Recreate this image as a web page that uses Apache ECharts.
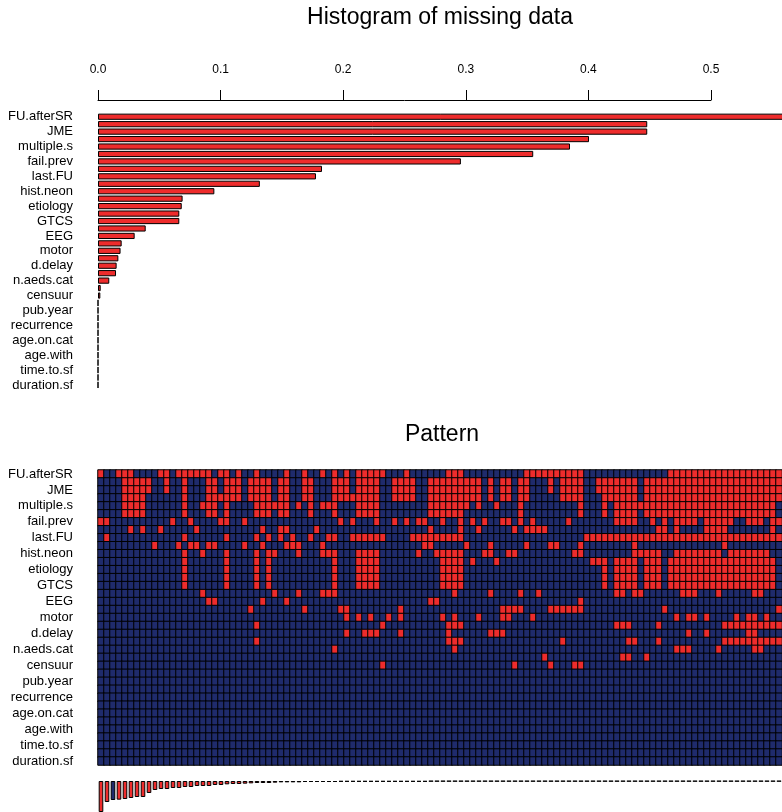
<!DOCTYPE html>
<html>
<head>
<meta charset="utf-8">
<script src="https://cdn.jsdelivr.net/npm/echarts@6.0.0/dist/echarts.min.js"></script>
<style>
  html, body { margin: 0; padding: 0; background: #ffffff; }
  #chart { width: 782px; height: 812px; }
</style>
</head>
<body>
<div id="chart"></div>
<script>
// Variable labels, printed on every other row (1st, 3rd, ... 37th variable)
const varLabels = ['FU.afterSR', 'JME', 'multiple.s', 'fail.prev', 'last.FU', 'hist.neon',
  'etiology', 'GTCS', 'EEG', 'motor', 'd.delay', 'n.aeds.cat', 'censuur', 'pub.year',
  'recurrence', 'age.on.cat', 'age.with', 'time.to.sf', 'duration.sf'];

// Proportion of missing values per variable (37 variables, sorted)
const missingShare = [0.58, 0.448, 0.448, 0.4005, 0.385, 0.355, 0.296, 0.1827, 0.1778, 0.132,
  0.0949, 0.069, 0.0683, 0.0663, 0.0663, 0.0389, 0.0299, 0.0193, 0.0184, 0.0166,
  0.0152, 0.0147, 0.0092, 0.0022, 0.0019, 0, 0, 0, 0, 0, 0, 0, 0, 0, 0, 0, 0];

// Histogram axis ticks
const shareTicks = [0.0, 0.1, 0.2, 0.3, 0.4, 0.5];

// Frequency of each missing-data pattern (one per column)
const patternFreq = [93, 63, 57, 56, 54, 51, 48, 48, 36, 27, 24, 24, 21, 21, 18, 18, 15, 15, 15, 12,
  12, 10, 9, 9, 8, 7, 6, 6, 6, 5, 4, 4, 4, 4, 3, 3, 3, 3, 3, 3,
  2, 2, 2, 2, 2, 2, 2, 2, 2, 2, 2, 2, 2, 2, 2, 1, 1, 1, 1, 1,
  1, 1, 1, 1, 1, 1, 1, 1, 1, 1, 1, 1, 1, 1, 1, 1, 1, 1, 1, 1,
  1, 1, 1, 1, 1, 1, 1, 1, 1, 1, 1, 1, 1, 1, 1, 1, 1, 1, 1, 1,
  1, 1, 1, 1, 1, 1, 1, 1, 1, 1, 1, 1, 1, 1];

// Missing cells of each pattern, listed per variable row as column numbers / ranges
const missingCols = [
  '1 4-6 11 12 14-19 21 22 24 27 32 35 38 40 42 44-48 52 59-61 72-81 96-114',
  '5-9 12 15 19 20 22-24 26-29 31 32 35 36 40-42 44-47 50-53 56-64 66 68 69 71 72 76 78-81 84-90 92-114',
  '5-9 12 15 19 20 22-24 26-29 31 32 35 36 40-42 44-47 50-53 56-64 66 68 69 71 72 76 78-81 84-90 92-114',
  '5-8 15 19-24 26-29 31 32 35 36 40-47 50-53 56-64 66 68 69 71 72 78-81 85-90 92-114',
  '5-8 15 18-20 22 27-32 34 36 38-40 44-47 56-62 64 67 71 81 85 87-113',
  '5-8 15 19 20 22 27-29 31 32 36 40 44-47 56-61 71 81 85 87-90 92-113',
  '1 2 13 16 21 22 25 41 43 47 50 52 54 55 58 61 63 65 68 69 71 73 79 87-90 93 95 97-100 102-106 109-111 113 114',
  '6 8 11 17 28 31 32 37 56 61 64 70 72-75 94 95 97 102-105 113',
  '2 15 22 27 29 31 33 36 39 40 43-48 53-61 82-114',
  '10 14 16 17 19 20 25 28 32-34 38 55 56 62 66 72 76 77 81 90 105',
  '15 18 22 27 29 30 34 38-40 44-47 54 57-61 65 66 69 70 80 81 90-94 97-104 106-112',
  '15 22 27 29 40 44-47 58-61 63 67 83-85 87-90 92-94 96-113',
  '15 22 27 29 40 44-47 58-61 85 87-90 92-94 96-113',
  '15 22 27 29 40 44-47 58-61 85 87-90 92-94 96-113',
  '15 22 27 29 40 44-47 58-61 85 87-90 92-94 96-113',
  '18 30 34 38-40 60 66 71 74 87 88 90 91 98-100 104 110 111',
  '19 20 28 32 56 57 81',
  '26 35 41 42 51 68-71 76-81 95 114',
  '42 44 46 49 51 58 60 64 68 69 73 97 99 100 102 107 109 110 112',
  '27 48 59-61 87-89 94 105-114',
  '42 45-47 51 59 66-68 99 102 109 110',
  '27 59-61 78 89 90 94 105-114',
  '40 60 97-99 104 110 111',
  '75 88 89 92',
  '48 70 76 80 81',
  '', '', '', '', '', '', '', '', '', '', '', ''
];

const RED = '#EE2C2C';
const BLUE = '#1F2B6C';
const FONT = '"Liberation Sans", Arial, Helvetica, sans-serif';

const nCols = patternFreq.length;
const rowIds = missingShare.map((_, i) => String(i));
const colIds = patternFreq.map((_, i) => String(i));

function parseCols(spec) {
  const set = new Set();
  spec.trim().split(/\s+/).filter(Boolean).forEach(tok => {
    const parts = tok.split('-').map(Number);
    const a = parts[0], b = parts.length > 1 ? parts[1] : parts[0];
    for (let c = a; c <= b; c++) set.add(c - 1);
  });
  return set;
}
const missingSets = missingCols.map(parseCols);

const cells = [];
missingSets.forEach((set, r) => {
  for (let c = 0; c < nCols; c++) cells.push([c, r, set.has(c) ? 1 : 0]);
});

// A pattern with no missing cell is drawn in blue in the frequency strip
const freqData = patternFreq.map((v, c) => {
  const complete = missingSets.every(set => !set.has(c));
  return { value: v, itemStyle: { color: complete ? BLUE : RED } };
});

const rowLabel = {
  interval: 0,
  fontFamily: FONT,
  fontSize: 13,
  color: '#000',
  margin: 25,
  formatter: v => { const i = Number(v); return i % 2 === 0 ? varLabels[i / 2] : ''; }
};

const chart = echarts.init(document.getElementById('chart'), null, { renderer: 'canvas', width: 782, height: 812 });

chart.setOption({
  animation: false,
  backgroundColor: '#ffffff',
  graphic: [
    { type: 'text', x: 440, y: 18, style: { text: 'Histogram of missing data', font: '23px ' + FONT, fill: '#000', textAlign: 'center', textVerticalAlign: 'middle' } },
    { type: 'text', x: 442, y: 435, style: { text: 'Pattern', font: '23px ' + FONT, fill: '#000', textAlign: 'center', textVerticalAlign: 'middle' } }
  ],
  grid: [
    { left: 98, top: 113, width: 613, height: 275.65, outerBoundsMode: 'none' },
    { left: 98, top: 470, width: 684, height: 295, outerBoundsMode: 'none' },
    { left: 98, top: 781, width: 684, height: 40, outerBoundsMode: 'none' }
  ],
  xAxis: [
    {
      gridIndex: 0, type: 'value', position: 'top', offset: 13,
      min: shareTicks[0], max: shareTicks[shareTicks.length - 1], interval: 0.1,
      axisLine: { show: true, lineStyle: { color: '#000', width: 1 } },
      axisTick: { show: true, inside: false, length: 10, lineStyle: { color: '#000', width: 1 } },
      axisLabel: { fontFamily: FONT, fontSize: 12, color: '#000', margin: 24, formatter: v => v.toFixed(1) },
      splitLine: { show: false }
    },
    {
      gridIndex: 1, type: 'category', data: colIds,
      axisLine: { show: false }, axisTick: { show: false }, axisLabel: { show: false }, splitLine: { show: false }
    },
    {
      gridIndex: 2, type: 'category', data: colIds, position: 'top',
      axisLine: { show: false }, axisTick: { show: false }, axisLabel: { show: false }, splitLine: { show: false }
    }
  ],
  yAxis: [
    {
      gridIndex: 0, type: 'category', data: rowIds, inverse: true,
      axisLine: { show: false }, axisTick: { show: false }, axisLabel: rowLabel, splitLine: { show: false }
    },
    {
      gridIndex: 1, type: 'category', data: rowIds, inverse: true,
      axisLine: { show: false }, axisTick: { show: false }, axisLabel: rowLabel, splitLine: { show: false }
    },
    {
      gridIndex: 2, type: 'value', inverse: true, min: 0, max: 120,
      axisLine: { show: false }, axisTick: { show: false }, axisLabel: { show: false }, splitLine: { show: false }
    }
  ],
  visualMap: {
    type: 'piecewise', show: false, seriesIndex: 1, dimension: 2,
    pieces: [{ value: 0, color: BLUE }, { value: 1, color: RED }]
  },
  series: [
    {
      type: 'bar', xAxisIndex: 0, yAxisIndex: 0, data: missingShare,
      barWidth: 6.2, clip: false, silent: true,
      itemStyle: { color: RED, borderColor: '#000', borderWidth: 1 }
    },
    {
      type: 'heatmap', xAxisIndex: 1, yAxisIndex: 1, data: cells, silent: true,
      itemStyle: { borderColor: '#000', borderWidth: 1 },
      emphasis: { disabled: true }
    },
    {
      type: 'bar', xAxisIndex: 2, yAxisIndex: 2, data: freqData,
      barWidth: 4.6, clip: false, silent: true,
      itemStyle: { borderColor: '#000', borderWidth: 1 }
    }
  ]
});
</script>
</body>
</html>
